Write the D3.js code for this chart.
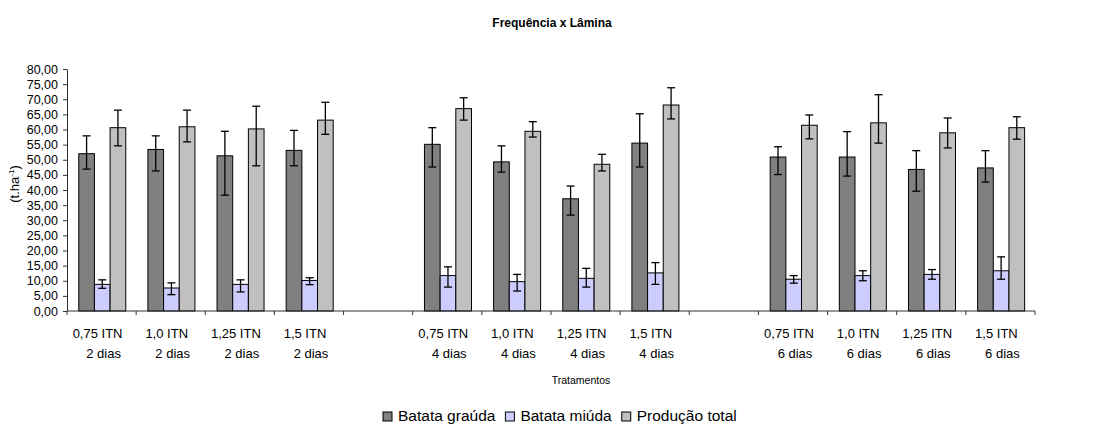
<!DOCTYPE html>
<html lang="pt">

<head>
  <meta charset="UTF-8">
  <title>Frequência x Lâmina</title>
  <script src="https://d3js.org/d3.v7.min.js"></script>
  <style>
    body {
      margin: 0;
      background: #fff;
      font-family: Arial, "Liberation Sans", sans-serif;
      overflow: hidden;
    }
  </style>
</head>

<body>
  <div class="chart"></div>

  <script>
    // tratamentos (vazio = espaço entre grupos)
    const line1 = ['0,75 ITN', '1,0 ITN', '1,25 ITN', '1,5 ITN', '', '0,75 ITN', '1,0 ITN', '1,25 ITN', '1,5 ITN', '', '0,75 ITN', '1,0 ITN', '1,25 ITN', '1,5 ITN']
    const line2 = ['2 dias', '2 dias', '2 dias', '2 dias', '', '4 dias', '4 dias', '4 dias', '4 dias', '', '6 dias', '6 dias', '6 dias', '6 dias']

    const seriesNames = ['Batata graúda', 'Batata miúda', 'Produção total']
    const colors = ['#808080', '#ccccff', '#c0c0c0']

    // valores médios
    const grauda = [52.0, 53.4, 51.3, 53.1, null, 55.1, 49.3, 37.1, 55.5, null, 50.9, 50.9, 46.8, 47.3]
    const miuda = [8.8, 7.6, 8.8, 10.1, null, 11.7, 9.7, 10.8, 12.6, null, 10.5, 11.7, 12.1, 13.3]
    const total = [60.6, 60.9, 60.2, 63.1, null, 66.9, 59.4, 48.5, 68.1, null, 61.4, 62.2, 58.9, 60.6]

    // barras de erro (limite superior / inferior)
    const graudaHi = [57.9, 57.9, 59.4, 59.7, null, 60.6, 54.6, 41.3, 65.2, null, 54.3, 59.3, 53.0, 53.0]
    const graudaLo = [46.9, 46.3, 38.3, 48.0, null, 47.6, 45.9, 31.7, 47.6, null, 45.1, 44.6, 39.6, 42.6]
    const miudaHi = [10.3, 9.3, 10.3, 11.0, null, 14.6, 12.1, 14.1, 16.0, null, 11.7, 13.3, 13.7, 17.9]
    const miudaLo = [7.5, 5.4, 6.3, 8.7, null, 7.9, 6.6, 7.9, 8.8, null, 9.2, 10.0, 10.5, 10.5]
    const totalHi = [66.4, 66.4, 67.7, 69.0, null, 70.5, 62.6, 51.8, 73.8, null, 64.8, 71.5, 63.8, 64.2]
    const totalLo = [54.6, 55.9, 48.0, 58.4, null, 63.1, 57.5, 46.3, 63.5, null, 56.9, 55.5, 53.9, 56.8]

    const yTicks = d3.range(0, 80.1, 5)

    const width = 1095, height = 425
    const margin = { left: 67, right: 60, top: 69, bottom: 114 }

    const svg = d3.select('.chart')
      .append('svg')
      .attr('width', width)
      .attr('height', height)
      .style('display', 'block')

    const x0 = d3.scaleBand()
      .domain(d3.range(line1.length))
      .range([margin.left, width - margin.right])

    const x1 = d3.scaleBand()
      .domain(d3.range(3))
      .range([x0.bandwidth() * 0.17, x0.bandwidth() * 0.85])

    const y = d3.scaleLinear()
      .domain([0, 80])
      .range([height - margin.bottom, margin.top])

    const fmt = v => d3.format('.2f')(v).replace('.', ',')

    // eixo y
    const yAxis = svg.append('g')
      .attr('transform', `translate(${margin.left},0)`)
      .call(d3.axisLeft(y).tickValues(yTicks).tickFormat(fmt).tickSize(4).tickSizeOuter(0))
    yAxis.selectAll('text')
      .attr('font-size', 12.5)
      .attr('font-family', 'Arial, "Liberation Sans", sans-serif')
      .attr('fill', '#000')
      .attr('dx', -2)
    yAxis.selectAll('line, path').attr('stroke', '#333')

    // barras
    const rows = line1.map((_, i) => ({
      i,
      vals: [grauda[i], miuda[i], total[i]],
      hi: [graudaHi[i], miudaHi[i], totalHi[i]],
      lo: [graudaLo[i], miudaLo[i], totalLo[i]]
    })).filter(d => d.vals[0] != null)

    const groups = svg.selectAll('g.cat')
      .data(rows)
      .enter()
      .append('g')
      .attr('class', 'cat')
      .attr('transform', d => `translate(${x0(d.i)},0)`)

    const items = d => d.vals.map((v, s) => ({ s, v, hi: d.hi[s], lo: d.lo[s] }))

    groups.selectAll('rect')
      .data(items)
      .enter()
      .append('rect')
      .attr('x', d => x1(d.s))
      .attr('width', x1.bandwidth())
      .attr('y', d => y(d.v))
      .attr('height', d => y(0) - y(d.v))
      .attr('fill', d => colors[d.s])
      .attr('stroke', '#000')
      .attr('stroke-width', 1)

    // barras de erro
    const eb = groups.selectAll('g.err')
      .data(items)
      .enter()
      .append('g')
      .attr('class', 'err')
      .attr('stroke', '#000')
      .attr('stroke-width', 1.3)
    const cx = d => x1(d.s) + x1.bandwidth() / 2
    eb.append('line')
      .attr('x1', cx).attr('x2', cx)
      .attr('y1', d => y(d.hi)).attr('y2', d => y(d.lo))
    eb.append('line')
      .attr('x1', d => cx(d) - 4).attr('x2', d => cx(d) + 4)
      .attr('y1', d => y(d.hi)).attr('y2', d => y(d.hi))
    eb.append('line')
      .attr('x1', d => cx(d) - 4).attr('x2', d => cx(d) + 4)
      .attr('y1', d => y(d.lo)).attr('y2', d => y(d.lo))

    // eixo x
    const xAxis = svg.append('g')
      .attr('transform', `translate(0,${y(0)})`)
    xAxis.append('line')
      .attr('x1', margin.left).attr('x2', width - margin.right)
      .attr('stroke', '#333')
    xAxis.selectAll('line.tick')
      .data(d3.range(line1.length + 1))
      .enter()
      .append('line')
      .attr('class', 'tick')
      .attr('x1', i => margin.left + i * x0.step())
      .attr('x2', i => margin.left + i * x0.step())
      .attr('y1', 0).attr('y2', 4)
      .attr('stroke', '#333')

    const labels = xAxis.selectAll('text.lab')
      .data(d3.range(line1.length))
      .enter()
      .append('text')
      .attr('class', 'lab')
      .attr('font-size', 13)
      .attr('text-anchor', 'middle')
      .attr('fill', '#000')
    labels.append('tspan')
      .attr('x', i => x0(i) + x0.bandwidth() / 2 - 4)
      .attr('y', 27)
      .text(i => line1[i])
    labels.append('tspan')
      .attr('x', i => x0(i) + x0.bandwidth() / 2 + 2)
      .attr('y', 47)
      .text(i => line2[i])

    // títulos
    svg.append('text')
      .attr('x', 552).attr('y', 27)
      .attr('text-anchor', 'middle')
      .attr('font-size', 12)
      .attr('font-weight', 'bold')
      .text('Frequência x Lâmina')

    svg.append('text')
      .attr('x', 581).attr('y', 384)
      .attr('text-anchor', 'middle')
      .attr('font-size', 10.5)
      .text('Tratamentos')

    const yl = svg.append('text')
      .attr('transform', 'translate(19,184) rotate(-90)')
      .attr('text-anchor', 'middle')
      .attr('font-size', 13)
    yl.append('tspan').text('(t.ha')
    yl.append('tspan').attr('font-size', 8).attr('dy', -5).text('-1')
    yl.append('tspan').attr('dy', 5).text(')')

    // legenda
    const legend = svg.append('g')
      .attr('transform', 'translate(383,421)')
    let lx = 0
    seriesNames.forEach((name, s) => {
      const g = legend.append('g').attr('transform', `translate(${lx},0)`)
      g.append('rect')
        .attr('x', 0).attr('y', -9)
        .attr('width', 9).attr('height', 9)
        .attr('fill', colors[s])
        .attr('stroke', '#000')
      const t = g.append('text')
        .attr('x', 15).attr('y', 0)
        .attr('font-size', 15.5)
        .text(name)
      lx += 15 + t.node().getComputedTextLength() + 10
    })
  </script>
</body>

</html>
